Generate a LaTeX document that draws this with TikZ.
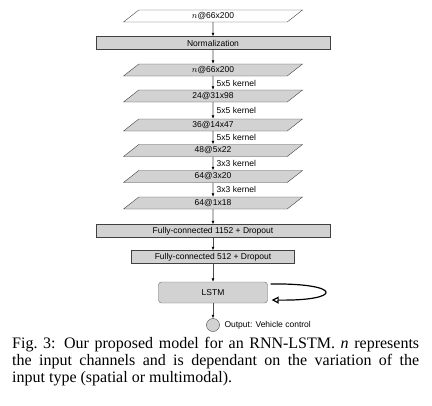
\documentclass[tikz,border=0pt]{standalone}
\usepackage{fontspec}
\setmainfont{Liberation Serif}
\newfontfamily\arialfont{Liberation Sans}
\usetikzlibrary{shapes.geometric,arrows.meta}
\definecolor{boxgray}{RGB}{210,210,210}
\definecolor{boxline}{RGB}{64,64,64}
\definecolor{lstmline}{RGB}{95,108,122}
\begin{document}
\begin{tikzpicture}[x=1bp,y=-1bp,
  every node/.style={font=\arialfont\fontsize{8.5bp}{10bp}\selectfont},
  layer/.style={shape=trapezium,trapezium left angle=25.6,trapezium right angle=154.4,trapezium stretches body,minimum width=179bp,minimum height=12bp,inner sep=0pt,draw=boxline,fill=boxgray},
  bar/.style={rectangle,minimum height=13bp,inner sep=0pt,draw=boxline,fill=boxgray},
  conn/.style={draw=gray!60!black,line width=0.8bp,-{Latex[length=3.5bp,width=3bp,color=black]}}]
\useasboundingbox (0,0) rectangle (432,406);
\node[layer,fill=white] (in) at (213,16) {$n$@66x200};
\node[bar,minimum width=234bp] (norm) at (213,43) {Normalization};
\foreach \nm/\y/\txt in {l1/70/{$n$@66x200},l2/96/24@31x98,l3/125/36@14x47,l4/150.5/48@5x22,l5/176.5/64@3x20,l6/203/64@1x18}
  \node[layer] (\nm) at (213,\y) {\txt};
\node[bar,minimum width=234bp] (fc1) at (213,231) {Fully-connected 1152 + Dropout};
\node[bar,minimum width=163bp] (fc2) at (213,257) {Fully-connected 512 + Dropout};
\node[bar,rounded corners=3bp,draw=lstmline,minimum width=109bp,minimum height=21bp] (lstm) at (213,292.5) {LSTM};
\node[circle,draw=boxline,fill=boxgray,minimum size=13bp,inner sep=0pt] (out) at (213,325) {};
\node[anchor=west] (outlbl) at (221,325) {Output: Vehicle control};

\draw[conn] (in) -- (norm);
\draw[conn] (norm) -- (l1);
\foreach \a/\b/\k in {l1/l2/5x5,l2/l3/5x5,l3/l4/5x5,l4/l5/3x3,l5/l6/3x3}
  \draw[conn] (\a) -- node[right] {\k\ kernel} (\b);
\draw[conn] (l6) -- (fc1);
\draw[conn] (fc1) -- (fc2);
\draw[conn] (fc2) -- (lstm);
\draw[conn] (lstm) -- (out);

\coordinate (la) at ([shift={(3,-8.5)}]lstm.east);
\coordinate (lb) at ([shift={(4,7.5)}]lstm.east);
\draw[line width=1.2bp,-{Triangle[open,length=7bp,width=7bp]}] (la) .. controls +(72,-1) and +(72,1) .. (lb);

\node[anchor=north west,text width=407bp,align=justify,inner sep=0pt,font=\rmfamily\fontsize{16bp}{17bp}\selectfont] (cap) at (12,337) {Fig.~3: Our proposed model for an RNN-LSTM. \textit{n} represents\linebreak the input channels and is dependant on the variation of the\linebreak input type (spatial or multimodal).};
\end{tikzpicture}
\end{document}
